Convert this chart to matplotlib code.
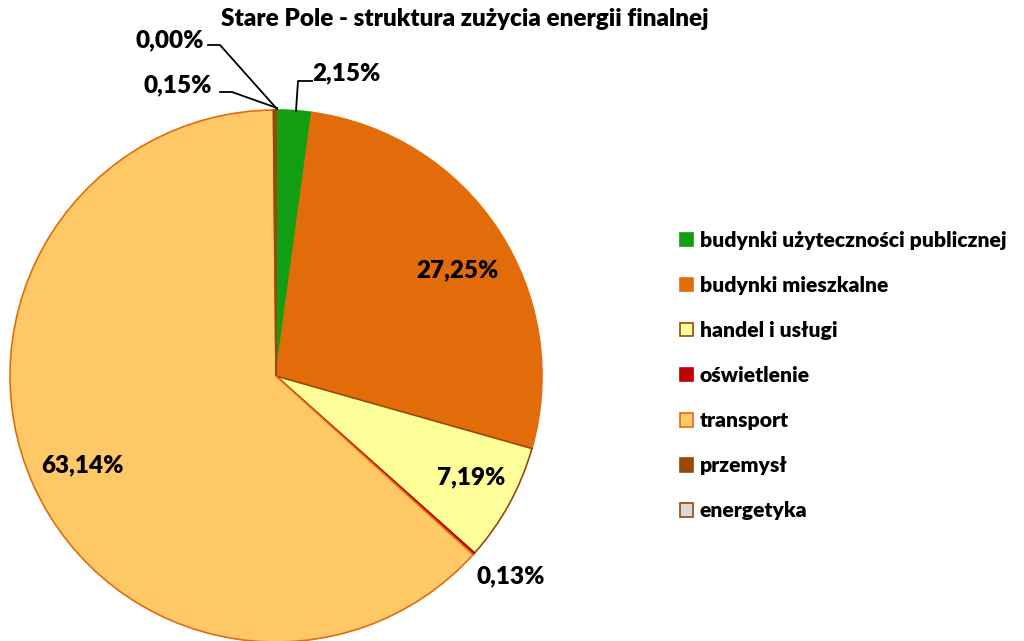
import matplotlib
matplotlib.use("Agg")
import matplotlib.pyplot as plt

categories = ["budynki użyteczności publicznej", "budynki mieszkalne", "handel i usługi",
              "oświetlenie", "transport", "przemysł", "energetyka"]
values = [2.15, 27.25, 7.19, 0.13, 63.14, 0.15, 0.004]
value_labels = ["2,15%", "27,25%", "7,19%", "0,13%", "63,14%", "0,15%", "0,00%"]
colors = ["#129E12", "#E36C0A", "#FFFF99", "#C00000", "#FFC866", "#984807", "#D9D9D9"]
edgecolors = ["#129E12", "#E36C0A", "#984807", "#C00000", "#E36C0A", "#984807", "#984807"]
title = "Stare Pole - struktura zużycia energii finalnej"

plt.rcParams['font.family'] = ['Lato', 'DejaVu Sans']

W, H = 1024, 641
fig = plt.figure(figsize=(W / 100, H / 100), dpi=100)
ax = fig.add_axes([0, 0, 1, 1])

cx, cy, r = 276, H - 376, 266
wedges, _ = ax.pie(values, colors=colors, startangle=90, counterclock=False,
                   center=(cx, cy), radius=r, frame=True,
                   wedgeprops=dict(linewidth=1.2))
for w, ec in zip(wedges, edgecolors):
    w.set_edgecolor(ec)
ax.set_xlim(0, W)
ax.set_ylim(0, H)
ax.axis("off")

fs_lab = 17.5
label_pos = [(346, 73), (457, 270), (471, 477), (511, 576), (83, 465), (178, 85), (170, 40)]
for txt, (x, y) in zip(value_labels, label_pos):
    ax.text(x, H - y, txt, ha="center", va="center", fontsize=fs_lab, fontweight="heavy", color="black")

ax.plot([312, 298, 296], [H - 81, H - 81, H - 111], color="black", lw=1.3)
ax.plot([220, 232, 277], [H - 92, H - 92, H - 108], color="black", lw=1.3)
ax.plot([208, 220, 277], [H - 45, H - 45, H - 109], color="black", lw=1.3)

ax.text(465, H - 19, title, ha="center", va="center", fontsize=17.5, fontweight="heavy")

leg = ax.legend(wedges, categories, loc="upper left", bbox_to_anchor=(680 / W, 1 - 231 / H),
                frameon=False, fontsize=15.2, handlelength=0.6, handleheight=0.6,
                handletextpad=0.33, labelspacing=1.235, borderaxespad=0, borderpad=0)
for t in leg.get_texts():
    t.set_fontweight("heavy")

fig.savefig("out.png", dpi=100)
